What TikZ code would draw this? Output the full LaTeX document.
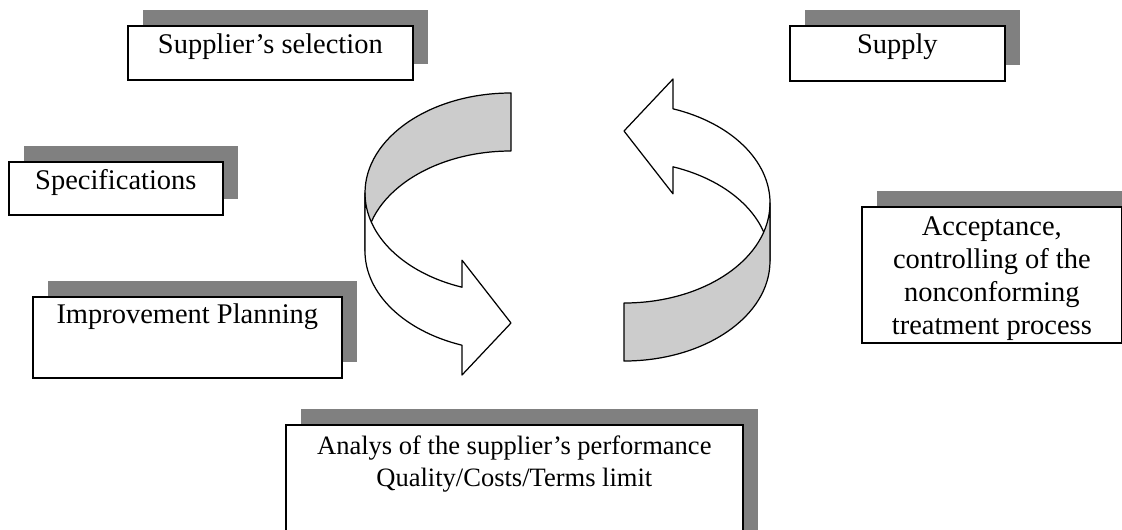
\documentclass[tikz,border=0pt]{standalone}
\usepackage{fontspec}
\setmainfont{Liberation Serif}
\usetikzlibrary{calc, shadows}

\begin{document}
\begin{tikzpicture}[x=0.02cm, y=-0.02cm]

% styles
\tikzstyle{box}=[draw, line width=1pt, fill=white, inner sep=0, anchor=north west,
  drop shadow={shadow xshift=0.31cm, shadow yshift=0.31cm, fill=gray, opacity=1}]
\tikzstyle{boxtext}=[anchor=north, inner sep=0, align=center, font=\fontsize{16.2}{18.8}\selectfont]
\tikzstyle{band}=[line width=0.7pt, line join=round]

\useasboundingbox (0,0) rectangle (1122,529);
\clip (0,0) rectangle (1122,529);

% boxes
\node[box, minimum width=5.70cm, minimum height=1.08cm] (sel) at (127,25) {};
\node[boxtext] (seltext) at ($(sel.north)+(0,8.6)$) {Supplier’s selection};

\node[box, minimum width=4.28cm, minimum height=1.06cm] (spec) at (8,161) {};
\node[boxtext] (spectext) at ($(spec.north)+(0,7.6)$) {Specifications};

\node[box, minimum width=6.18cm, minimum height=1.62cm] (impr) at (32,296) {};
\node[boxtext] (imprtext) at ($(impr.north)+(0,7.6)$) {Improvement Planning};

\node[box, minimum width=4.30cm, minimum height=1.10cm] (supply) at (789,25) {};
\node[boxtext] (supplytext) at ($(supply.north)+(0,8.6)$) {Supply};

\node[box, minimum width=5.20cm, minimum height=2.72cm] (accept) at (861,206) {};
\node[boxtext] (accepttext) at ($(accept.north)+(0,10)$) {Acceptance,\\ controlling of the\\ nonconforming\\ treatment process};

\node[box, minimum width=9.14cm, minimum height=3.00cm] (analys) at (285,424) {};
\node[boxtext, font=\fontsize{15.1}{18.2}\selectfont] (analystext) at ($(analys.north)+(0,11.9)$) {Analys of the supplier’s performance\\ Quality/Costs/Terms limit};

% left arrow
\filldraw[band, fill=gray!40] (365,193) arc[start angle=180, end angle=270, x radius=146, y radius=100]
  -- ++(0,58) arc[start angle=270, end angle=180, x radius=146, y radius=100] -- cycle;
\filldraw[band, fill=white] (365,193) arc[start angle=180, end angle=109.6, x radius=146, y radius=100]
  -- ++(0,-27) -- (511,323) -- (462,375) -- (462,345.2)
  arc[start angle=109.6, end angle=180, x radius=146, y radius=100] -- cycle;

% right arrow
\begin{scope}[rotate around={180:(567.5,227)}]
\filldraw[band, fill=white] (365,193) arc[start angle=180, end angle=109.6, x radius=146, y radius=100]
  -- ++(0,-27) -- (511,323) -- (462,375) -- (462,345.2)
  arc[start angle=109.6, end angle=180, x radius=146, y radius=100] -- cycle;
\filldraw[band, fill=gray!40] (365,193) arc[start angle=180, end angle=270, x radius=146, y radius=100]
  -- ++(0,58) arc[start angle=270, end angle=180, x radius=146, y radius=100] -- cycle;
\end{scope}

\end{tikzpicture}
\end{document}
